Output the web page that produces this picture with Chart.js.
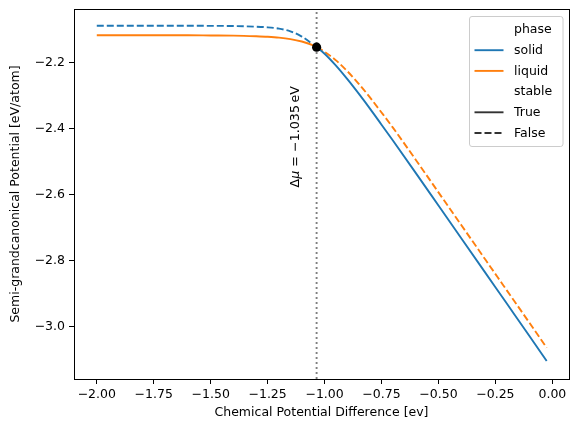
<!DOCTYPE html>
<html><head><meta charset="utf-8">
<script src="https://cdn.jsdelivr.net/npm/chart.js@4.4.1/dist/chart.umd.min.js"></script>
<style>html,body{margin:0;padding:0;background:#fff;}canvas{display:block;}</style>
</head><body>
<canvas id="c" width="578" height="432"></canvas>
<script>
// ---- data ----
const mu = [-2.0,-1.8,-1.6,-1.5,-1.4,-1.3,-1.25,-1.2,-1.15,-1.1,-1.05,-1.035,-1.0,-0.95,-0.9,-0.85,-0.8,-0.75,-0.7,-0.6,-0.5,-0.4,-0.3,-0.2,-0.1,-0.025];
const solidPhi = [-2.087,-2.087,-2.087,-2.0875,-2.088,-2.090,-2.092,-2.096,-2.104,-2.120,-2.144,-2.152,-2.172,-2.208,-2.249,-2.293,-2.339,-2.387,-2.435,-2.533,-2.632,-2.731,-2.830,-2.929,-3.028,-3.103];
const liquidPhi = [-2.116,-2.116,-2.116,-2.1165,-2.117,-2.119,-2.1205,-2.123,-2.1275,-2.135,-2.1465,-2.152,-2.166,-2.192,-2.225,-2.263,-2.305,-2.350,-2.396,-2.493,-2.592,-2.691,-2.790,-2.889,-2.988,-3.063];
const transitionMu = -1.035;
const transitionPhi = -2.152;
const xTicks = [-2.0,-1.75,-1.5,-1.25,-1.0,-0.75,-0.5,-0.25,0.0];
const yTicks = [-3.0,-2.8,-2.6,-2.4,-2.2];
const xTitle = 'Chemical Potential Difference [ev]';
const yTitle = 'Semi-grandcanonical Potential [eV/atom]';
const legendLabels = ['phase','solid','liquid','stable','True','False'];

// ---- styling ----
const BLUE = '#1f77b4', ORANGE = '#ff7f0e', DARK = '#333333';
const LW = 1.9, DASH = [7,3];
const FONT = "'DejaVu Sans'";

const idx = mu.indexOf(transitionMu);
const pts = (ys, a, b) => mu.slice(a, b).map((x, i) => ({x, y: ys[a + i]}));
const lineDs = (data, color, dash) => ({type:'line', data, borderColor:color, borderWidth:LW, borderDash:dash,
  pointRadius:0, fill:false, cubicInterpolationMode:'monotone', borderCapStyle:'butt'});

const fmt = (v, d) => v.toFixed(d).replace('-', '\u2212');

const decor = {
  id:'decor',
  beforeDatasetsDraw(chart){
    const {ctx, chartArea:a, scales:{x}} = chart;
    const px = x.getPixelForValue(transitionMu);
    ctx.save();
    ctx.strokeStyle = '#808080'; ctx.lineWidth = 1.9; ctx.setLineDash([1.9,3.1]);
    ctx.beginPath(); ctx.moveTo(px, a.bottom); ctx.lineTo(px, a.top); ctx.stroke();
    ctx.restore();
  },
  afterDraw(chart){
    const {ctx, chartArea:a, scales:{x, y}} = chart;
    ctx.save();
    // frame
    ctx.strokeStyle = '#000'; ctx.lineWidth = 1; ctx.setLineDash([]);
    ctx.strokeRect(Math.round(a.left)+0.5, Math.round(a.top)+0.5, Math.round(a.right-a.left), Math.round(a.bottom-a.top));
    // axis titles
    ctx.fillStyle = '#000';
    ctx.font = `12.5px ${FONT}`;
    ctx.textAlign = 'center'; ctx.textBaseline = 'middle';
    ctx.fillText(xTitle, (a.left + a.right)/2, 413);
    ctx.save(); ctx.translate(16, (a.top + a.bottom)/2); ctx.rotate(-Math.PI/2);
    ctx.fillText(yTitle, 0, 0); ctx.restore();
    // annotation
    const px = x.getPixelForValue(transitionMu);
    ctx.save(); ctx.translate(px - 17.5, 136.7); ctx.rotate(-Math.PI/2);
    ctx.textAlign = 'left'; ctx.textBaseline = 'alphabetic';
    const parts = [['\u0394', `12.7px ${FONT}`], ['\u03bc', `italic 12.7px ${FONT}`], [' = \u22121.035\u2009eV', `12.7px ${FONT}`]];
    let w = 0;
    parts.forEach(([t,f]) => { ctx.font = f; w += ctx.measureText(t).width; });
    let cx = -w/2;
    parts.forEach(([t,f]) => { ctx.font = f; ctx.fillText(t, cx, 0); cx += ctx.measureText(t).width; });
    ctx.restore();
    // legend
    const L = 469.5, T = 16.5, W = 93.5, H = 130;
    ctx.fillStyle = 'rgba(255,255,255,0.8)'; ctx.strokeStyle = '#cccccc'; ctx.lineWidth = 1;
    ctx.beginPath(); ctx.roundRect(L, T, W, H, 2.5); ctx.fill(); ctx.stroke();
    const styles = [null, [BLUE, []], [ORANGE, []], null, [DARK, []], [DARK, DASH]];
    ctx.font = `12.5px ${FONT}`; ctx.textAlign = 'left'; ctx.textBaseline = 'middle'; ctx.fillStyle = '#000';
    legendLabels.forEach((lab, i) => {
      const yy = 29.5 + i * 20.7;
      const st = styles[i];
      if (st) {
        ctx.strokeStyle = st[0]; ctx.lineWidth = LW; ctx.setLineDash(st[1]);
        ctx.beginPath(); ctx.moveTo(474.5, yy); ctx.lineTo(503.5, yy); ctx.stroke();
      }
      ctx.fillText(lab, 514, yy + 0.5);
    });
    ctx.restore();
  }
};

new Chart(document.getElementById('c'), {
  type:'line',
  data:{datasets:[
    {type:'scatter', data:[{x:transitionMu, y:transitionPhi}], pointRadius:4.6, pointBackgroundColor:'#000', pointBorderWidth:0, showLine:false},
    lineDs(pts(solidPhi, idx, mu.length), BLUE, []),
    lineDs(pts(liquidPhi, 0, idx+1), ORANGE, []),
    lineDs(pts(solidPhi, 0, idx+1), BLUE, DASH),
    lineDs(pts(liquidPhi, idx, mu.length), ORANGE, DASH),
  ]},
  options:{
    responsive:false, animation:false, devicePixelRatio:1,
    layout:{padding:{top:9, right:9, left:0, bottom:0}},
    plugins:{legend:{display:false}, tooltip:{enabled:false}},
    scales:{
      x:{type:'linear', min:-2.1, max:0.073,
        afterBuildTicks:s=>{ s.ticks = xTicks.map(v=>({value:v})); },
        afterFit:s=>{ s.height = 53; s.paddingLeft = 0; s.paddingRight = 0; },
        grid:{drawOnChartArea:false, tickLength:5, color:'#000', tickWidth:1},
        border:{display:false},
        ticks:{color:'#000', font:{family:'DejaVu Sans', size:12.5}, padding:3, maxRotation:0, autoSkip:false, callback:v=>fmt(v,2)}},
      y:{type:'linear', min:-3.1576, max:-2.0364,
        afterBuildTicks:s=>{ s.ticks = yTicks.map(v=>({value:v})); },
        afterFit:s=>{ s.width = 74; s.paddingTop = 0; s.paddingBottom = 0; },
        grid:{drawOnChartArea:false, tickLength:5, color:'#000', tickWidth:1},
        border:{display:false},
        ticks:{color:'#000', font:{family:'DejaVu Sans', size:12.5}, padding:4, autoSkip:false, callback:v=>fmt(v,1)}}
    }
  },
  plugins:[decor]
});
</script>
</body></html>
